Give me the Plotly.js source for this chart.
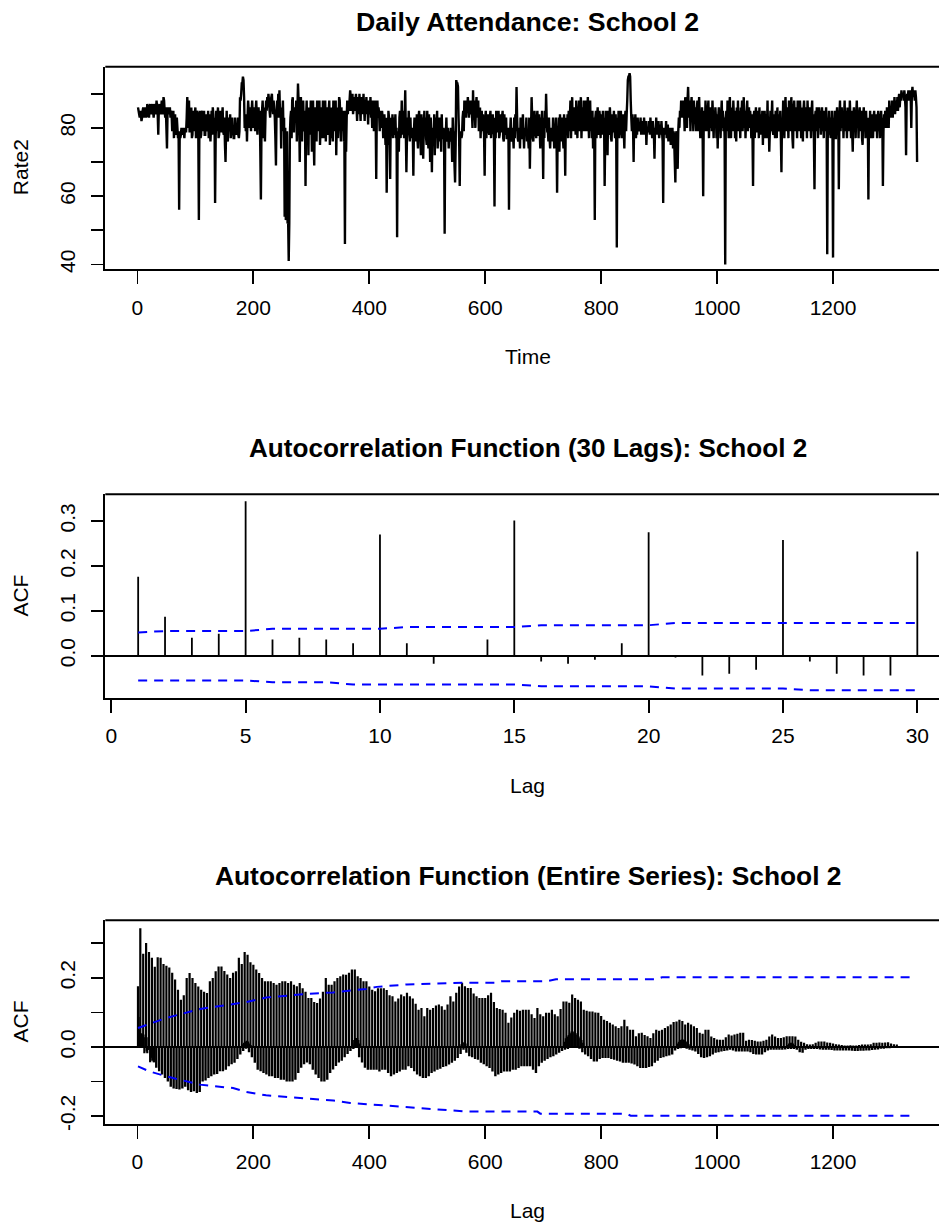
<!DOCTYPE html>
<html><head><meta charset="utf-8">
<script src="https://cdn.plot.ly/plotly-3.0.1.min.js"></script>
<style>html,body{margin:0;padding:0;background:#fff}</style>
</head><body><div id="chart" style="width:939px;height:1224px"></div>
<script>
// ---------- Daily attendance rate, School 2 (day 1..1345) ----------
const rate2 = [
86,85,84,83,85,84,82,83,85,86,84,83,86,85,83,84,87,86,84,83,
86,87,85,84,86,87,85,83,86,87,84,85,88,86,84,78,86,87,85,84,
86,88,85,84,89,88,85,83,86,80,74,85,86,84,85,86,83,85,84,79,
83,85,77,80,84,79,78,83,80,77,79,56,79,77,78,80,79,78,80,79,
77,80,79,79,83,89,85,80,88,79,79,84,86,77,78,85,83,79,84,86,
77,78,85,84,79,53,83,85,77,78,84,85,79,83,85,78,78,84,83,79,
80,85,77,84,79,76,80,85,78,86,84,79,83,58,77,85,79,83,86,77,
78,84,85,79,79,83,86,79,78,83,75,70,79,85,77,76,83,79,80,84,
77,79,83,78,80,77,77,83,79,78,80,79,83,78,77,79,89,88,90,93,
93,95,94,89,80,83,79,84,76,83,88,85,80,86,83,79,85,88,83,80,
86,84,79,85,88,83,78,84,86,80,85,73,59,79,85,88,83,77,86,76,
84,88,85,89,86,90,88,85,83,88,89,90,86,84,88,85,83,77,69,85,
88,85,90,83,91,84,86,74,85,83,88,79,83,54,80,53,55,79,52,53,
41,52,78,83,85,77,88,89,79,79,86,84,83,88,76,85,93,88,83,70,
85,89,83,76,86,88,80,79,85,63,83,88,77,85,72,86,83,78,88,84,
73,85,88,77,69,84,86,79,76,88,83,79,85,88,75,80,86,84,77,88,
83,77,85,88,76,84,86,79,78,85,88,75,83,86,77,85,76,88,83,79,
85,88,72,84,86,77,83,89,88,83,76,86,79,84,85,76,77,46,85,73,
83,88,84,87,85,88,91,89,85,88,90,84,86,89,85,88,90,86,82,89,
88,84,90,86,82,89,85,88,84,90,86,82,88,85,89,84,86,81,88,85,
84,89,83,86,80,88,83,79,85,88,83,65,85,88,83,86,84,79,85,83,
80,85,83,77,79,84,80,75,83,61,79,75,85,83,77,65,83,79,79,84,
77,83,79,78,84,77,80,48,79,78,73,83,85,77,80,88,78,83,85,77,
83,91,79,67,77,83,78,85,79,76,83,77,78,80,79,66,79,83,77,80,
76,84,77,74,83,85,78,79,72,84,77,83,71,80,85,78,83,77,75,85,
77,74,84,79,70,83,78,67,80,77,76,84,72,83,77,78,85,74,79,77,
83,76,79,73,84,77,77,80,77,49,79,78,83,76,77,80,74,79,77,76,
80,77,70,83,78,79,69,64,75,94,93,93,92,83,77,63,79,78,77,78,
83,85,79,88,85,86,83,88,85,89,86,83,88,85,84,88,85,80,91,83,
88,84,80,86,89,83,85,88,79,84,86,77,83,85,79,84,80,78,66,83,
85,77,83,79,84,79,78,83,85,77,80,79,84,79,78,57,83,77,85,79,
79,83,85,77,78,84,79,79,83,85,77,76,84,79,78,83,77,77,80,79,
56,79,79,83,77,76,80,78,74,83,77,84,79,92,83,77,76,80,79,74,
83,77,77,79,84,79,74,80,78,78,83,76,79,77,74,83,68,79,79,89,
83,77,76,80,85,79,79,77,83,85,78,78,84,79,74,83,77,85,78,65,
83,77,85,80,90,83,79,79,76,83,77,74,80,78,79,76,83,79,74,80,
78,83,77,61,79,76,83,73,84,79,79,76,83,77,74,84,79,66,83,79,
78,84,77,85,79,83,88,77,84,89,79,85,79,86,83,78,88,84,77,85,
83,88,79,85,89,77,84,86,79,88,83,79,85,88,79,84,89,83,77,85,
88,79,84,77,85,74,83,79,53,83,85,77,83,86,79,78,85,83,77,84,
80,78,85,79,83,63,77,85,79,83,72,85,79,78,86,83,77,76,84,79,
79,85,80,77,84,77,45,83,79,85,77,83,78,85,79,77,83,84,79,74,
83,85,79,84,88,94,95,95,96,95,88,83,79,84,80,70,83,79,84,77,
80,78,83,79,81,79,80,83,78,82,79,80,78,83,80,78,82,75,80,79,
79,82,80,78,83,79,80,77,82,79,78,71,80,79,83,78,80,79,82,77,
79,81,78,82,79,76,58,80,79,80,78,82,77,79,81,76,79,78,80,75,
79,77,80,74,79,76,70,64,78,79,75,68,79,83,80,85,83,88,84,86,
83,88,85,79,89,84,86,80,88,92,85,83,88,79,86,89,83,85,79,88,
84,86,83,79,85,88,79,84,89,83,77,85,80,86,79,60,83,85,79,88,
83,86,79,85,88,77,84,86,80,85,79,88,83,77,85,80,86,83,77,84,
74,83,86,79,85,77,84,88,80,85,79,83,77,40,83,85,79,88,84,77,
85,89,83,77,86,84,79,88,83,85,77,84,76,86,80,88,79,85,83,77,
86,83,88,79,84,89,80,85,77,83,85,88,79,84,86,80,85,83,77,84,
79,63,83,85,77,83,86,79,79,85,83,77,86,80,78,84,79,85,75,83,
77,85,80,77,84,79,88,77,83,73,79,85,79,83,88,79,78,84,80,77,
85,83,77,86,80,79,84,79,85,77,67,83,79,88,84,77,85,89,83,79,
86,84,77,88,83,85,79,89,84,77,74,85,88,83,79,86,84,77,88,83,
85,79,88,84,77,86,80,76,85,88,83,79,86,84,77,88,83,85,79,86,
83,77,85,88,79,84,77,62,83,85,79,86,83,77,84,86,80,85,78,83,
86,79,84,77,85,83,79,86,80,43,83,77,85,78,83,79,77,85,79,42,
83,79,85,77,77,83,86,79,85,62,83,88,79,84,86,80,85,77,83,88,
79,85,83,77,86,80,85,79,88,83,77,85,79,73,83,86,80,85,77,84,
88,80,85,77,84,86,79,83,85,77,75,83,86,79,84,77,85,80,78,83,
59,83,79,85,77,83,79,84,77,83,85,79,80,79,84,77,83,85,79,84,
77,83,85,79,83,63,79,84,80,85,83,80,86,83,85,80,88,84,83,86,
84,88,83,87,85,89,84,87,88,85,89,85,88,90,86,89,88,91,89,90,
90,88,91,89,86,72,88,90,89,91,88,90,91,89,80,90,92,89,91,90,
88,91,89,86,70
];

// ---------- ACF, first 30 lags ----------
const acf30Lags = [1,2,3,4,5,6,7,8,9,10,11,12,13,14,15,16,17,18,19,20,21,22,23,24,25,26,27,28,29,30];
const acf30 = [0.176,0.087,0.040,0.049,0.344,0.036,0.040,0.036,0.028,0.270,
               0.028,-0.018,-0.002,0.036,0.301,-0.013,-0.018,-0.009,0.028,0.275,
               -0.004,-0.044,-0.040,-0.031,0.258,-0.013,-0.040,-0.044,-0.044,0.232];
const ci30Upper = [0.052,0.055,0.055,0.055,0.055,0.060,0.060,0.060,0.060,0.060,
                   0.064,0.064,0.064,0.064,0.064,0.068,0.068,0.068,0.068,0.068,
                   0.073,0.073,0.073,0.073,0.073,0.073,0.073,0.073,0.073,0.073];
const ci30Lower = [-0.055,-0.055,-0.055,-0.055,-0.055,-0.059,-0.059,-0.059,-0.064,-0.064,
                   -0.064,-0.064,-0.064,-0.064,-0.064,-0.068,-0.068,-0.068,-0.068,-0.068,
                   -0.073,-0.073,-0.073,-0.073,-0.073,-0.077,-0.077,-0.077,-0.077,-0.077];

// ---------- ACF, entire series (lags 31..1340, per 5-lag week block) ----------
// peak = ACF at lag 35,40,...,1340 ; trough = lowest ACF among the other 4 lags of that block
const acfAllPeak = [
.26,.258,.24,.235,.23,.215,.195,.166,.137,.15,
.2,.214,.2,.185,.175,.166,.16,.156,.19,.2,
.219,.233,.233,.22,.21,.2,.215,.219,.258,.24,
.275,.267,.245,.238,.224,.214,.2,.19,.19,.19,
.185,.18,.185,.19,.19,.185,.19,.18,.176,.185,
.17,.16,.142,.142,.13,.127,.14,.16,.2,.18,
.18,.19,.2,.205,.21,.209,.215,.224,.224,.205,
.2,.19,.19,.175,.166,.161,.17,.17,.17,.165,
.15,.147,.132,.14,.152,.147,.157,.147,.14,.125,
.108,.113,.089,.113,.108,.113,.12,.123,.118,.108,
.123,.147,.132,.157,.175,.186,.176,.171,.171,.155,
.147,.142,.142,.142,.15,.157,.13,.113,.11,.108,
.099,.07,.085,.099,.108,.105,.108,.108,.108,.095,
.084,.113,.095,.089,.099,.099,.108,.095,.089,.11,
.132,.132,.128,.152,.142,.137,.132,.108,.105,.103,
.103,.1,.099,.09,.079,.075,.07,.065,.06,.055,
.06,.079,.06,.05,.05,.031,.04,.041,.035,.031,
.026,.04,.05,.047,.05,.055,.06,.065,.072,.074,
.079,.075,.065,.07,.065,.06,.055,.041,.038,.05,
.05,.03,.026,.022,.021,.021,.028,.036,.033,.036,
.038,.041,.041,.018,.021,.02,.018,.016,.016,.018,
.021,.03,.036,.03,.026,.026,.028,.031,.031,.031,
.03,.021,.015,.012,.008,.007,.008,.012,.016,.016,
.016,.013,.012,.01,.008,.007,.006,.004,.004,.005,
.004,.004,.006,.007,.007,.007,.008,.012,.012,.013,
.012,.013,.014,.01,.008,.007,.003,.002,.002,.001,
.001,.001
];
const acfAllTrough = [
-.06,-.07,-.08,-.09,-.1,-.115,-.12,-.122,-.123,-.12,
-.115,-.125,-.13,-.128,-.133,-.13,-.1,-.097,-.09,-.085,
-.08,-.078,-.07,-.07,-.066,-.056,-.05,-.046,-.035,-.022,
-.012,-.005,-.015,-.03,-.046,-.066,-.07,-.075,-.08,-.085,
-.085,-.09,-.09,-.095,-.095,-.1,-.1,-.1,-.095,-.075,
-.06,-.05,-.045,-.05,-.066,-.08,-.09,-.1,-.1,-.095,
-.075,-.065,-.055,-.045,-.04,-.03,-.02,-.012,-.006,-.003,
-.03,-.045,-.06,-.066,-.066,-.066,-.066,-.071,-.066,-.066,
-.075,-.085,-.08,-.075,-.071,-.066,-.066,-.056,-.061,-.07,
-.08,-.085,-.09,-.09,-.085,-.075,-.071,-.066,-.063,-.058,
-.056,-.051,-.046,-.04,-.032,-.02,-.008,-.017,-.027,-.03,
-.035,-.037,-.046,-.05,-.056,-.061,-.071,-.085,-.08,-.075,
-.071,-.071,-.071,-.066,-.066,-.061,-.056,-.056,-.056,-.056,
-.066,-.075,-.056,-.046,-.04,-.035,-.03,-.027,-.022,-.017,
-.012,-.008,-.006,-.003,-.003,-.003,-.005,-.015,-.022,-.027,
-.035,-.042,-.042,-.035,-.032,-.032,-.032,-.035,-.037,-.04,
-.042,-.046,-.046,-.046,-.048,-.051,-.056,-.061,-.061,-.061,
-.058,-.056,-.046,-.04,-.032,-.03,-.027,-.025,-.022,-.01,
-.006,-.004,-.003,-.005,-.008,-.01,-.013,-.02,-.03,-.032,
-.03,-.027,-.022,-.017,-.015,-.013,-.012,-.01,-.008,-.01,
-.013,-.013,-.013,-.013,-.013,-.015,-.02,-.022,-.022,-.022,
-.015,-.01,-.008,-.008,-.008,-.008,-.008,-.007,-.006,-.006,
-.006,-.008,-.015,-.017,-.008,-.006,-.006,-.006,-.006,-.007,
-.008,-.008,-.008,-.009,-.01,-.01,-.01,-.01,-.01,-.01,
-.011,-.012,-.012,-.011,-.011,-.01,-.01,-.009,-.008,-.007,
-.005,-.005,-.004,-.004,-.003,-.003,-.002,-.001,-.001,-.001,
-.001,-.001
];
// positive off-peak lags
const acfAllBumpLags = [181,184,186,189,191,194,196, 371,374,376,379,381,384, 559,561,564,566,
  736,739,741,744,746,749,751,754,756,759,761,764,766,769, 931,934,936,939,941,944,946,949,951,
  1121,1124,1126,1129,1131,1134];
const acfAllBumpVals = [.008,.012,.016,.018,.016,.01,.005, .01,.02,.026,.026,.02,.01, .008,.012,.014,.01,
  .015,.025,.03,.035,.04,.045,.045,.04,.04,.035,.03,.025,.02,.012, .01,.015,.02,.022,.022,.02,.016,.012,.008,
  .006,.01,.012,.012,.01,.006];
const ciAllUpperLags = [1,50,108,165,188,222,280,338,395,413,465,568,620,628,705,722,895,905,1343];
const ciAllUpper     = [.055,.084,.110,.123,.130,.143,.152,.158,.168,.174,.181,.186,.186,.190,.190,.196,.196,.202,.202];
const ciAllLowerLags = [1,21,50,73,108,165,188,222,280,338,367,453,516,568,690,695,843,851,1343];
const ciAllLower     = [-.056,-.071,-.085,-.095,-.109,-.119,-.130,-.140,-.148,-.155,-.162,-.172,-.181,-.187,-.187,-.193,-.193,-.199,-.199];

// ---------- tick labels ----------
const timeTicks = [0,200,400,600,800,1000,1200];
const lag30Ticks = [0,5,10,15,20,25,30];
const rateTicks = [40,50,60,70,80,90];
const rateTickText = ['40','','60','','80',''];
const acf30Ticks = [0,0.1,0.2,0.3];
const acf30TickText = ['0.0','0.1','0.2','0.3'];
const acfAllTicks = [-0.2,-0.1,0,0.1,0.2,0.3];
const acfAllTickText = ['-0.2','','0.0','','0.2',''];

// ---------- build ----------
const time = rate2.map((_, i) => i + 1);
const peakLags = acfAllPeak.map((_, i) => 35 + 5 * i);
const troughLags = peakLags.map(l => l - 2.5);

function spikes(lags, vals) {
  const x = [], y = [];
  lags.forEach((l, i) => { x.push(l, l, null); y.push(0, vals[i], null); });
  return {x, y};
}
const BLUE = '#0000FF';
const dash = '9px,7px';
const traces = [];
traces.push({x: time, y: rate2, xaxis: 'x', yaxis: 'y', mode: 'lines',
  line: {color: 'black', width: 2.4, simplify: false}, hoverinfo: 'skip'});

const s30 = spikes(acf30Lags, acf30);
traces.push({x: s30.x, y: s30.y, xaxis: 'x2', yaxis: 'y2', mode: 'lines', line: {color: 'black', width: 1.8}});
traces.push({x: acf30Lags, y: ci30Upper, xaxis: 'x2', yaxis: 'y2', mode: 'lines', line: {color: BLUE, width: 2, dash: dash}});
traces.push({x: acf30Lags, y: ci30Lower, xaxis: 'x2', yaxis: 'y2', mode: 'lines', line: {color: BLUE, width: 2, dash: dash}});

const sT = spikes(troughLags, acfAllTrough);
traces.push({x: sT.x, y: sT.y, xaxis: 'x3', yaxis: 'y3', mode: 'lines', line: {color: 'black', width: 2.4}});
const sB = spikes(acfAllBumpLags, acfAllBumpVals);
traces.push({x: sB.x, y: sB.y, xaxis: 'x3', yaxis: 'y3', mode: 'lines', line: {color: 'black', width: 2.2}});
const s30b = spikes(acf30Lags, acf30);
traces.push({x: s30b.x, y: s30b.y, xaxis: 'x3', yaxis: 'y3', mode: 'lines', line: {color: 'black', width: 2.2}});
const sP = spikes(peakLags, acfAllPeak);
traces.push({x: sP.x, y: sP.y, xaxis: 'x3', yaxis: 'y3', mode: 'lines', line: {color: 'black', width: 2.2}});
traces.push({x: ciAllUpperLags, y: ciAllUpper, xaxis: 'x3', yaxis: 'y3', mode: 'lines', line: {color: BLUE, width: 2, dash: dash}});
traces.push({x: ciAllLowerLags, y: ciAllLower, xaxis: 'x3', yaxis: 'y3', mode: 'lines', line: {color: BLUE, width: 2, dash: dash}});

const W = 939, H = 1224;
const xl = 105.3 / W;
const dom = (top, bot) => [1 - bot / H, 1 - top / H];
const P1 = [66.7, 269.3], P2 = [494.3, 697.7], P3 = [920.3, 1123.7];
const FONT = 'Liberation Sans, Arial, Helvetica, sans-serif';

function xax(range, ticks, anchor) {
  return {domain: [xl, 1], range: range, anchor: anchor, tickmode: 'array', tickvals: ticks,
    ticktext: ticks.map(String), ticks: 'outside', ticklen: 13, tickwidth: 1.8, tickcolor: 'black',
    showline: true, linewidth: 2, linecolor: 'black', showgrid: false, zeroline: false,
    tickfont: {size: 21, family: FONT, color: 'black'}, ticklabelstandoff: 5};
}
function yax(range, ticks, text, d, anchor, zl) {
  return {domain: d, range: range, anchor: anchor, tickmode: 'array', tickvals: ticks, ticktext: text,
    ticks: 'outside', ticklen: 12, tickwidth: 1.8, tickcolor: 'black', tickangle: -90,
    showline: true, linewidth: 2, linecolor: 'black', showgrid: false,
    zeroline: zl, zerolinecolor: 'black', zerolinewidth: 1.5,
    tickfont: {size: 21, family: FONT, color: 'black'}, ticklabelstandoff: 8};
}
const topLine = (top) => ({type: 'line', xref: 'paper', yref: 'paper', x0: xl, x1: 1,
  y0: 1 - top / H, y1: 1 - top / H, line: {color: 'black', width: 2}});

function ann(text, px, py, size, angle) {
  return {text: text, xref: 'paper', yref: 'paper', x: px / W, y: 1 - py / H,
    xanchor: 'center', yanchor: 'middle', showarrow: false, textangle: angle || 0,
    font: {size: size, family: FONT, color: 'black'}};
}

const layout = {
  width: W, height: H, margin: {l: 0, r: 0, t: 0, b: 0},
  paper_bgcolor: 'white', plot_bgcolor: 'white', showlegend: false,
  font: {family: FONT, size: 21, color: 'black'},
  xaxis: xax([-55.4, 1382.8], timeTicks, 'y'),
  yaxis: yax([38.58, 97.92], rateTicks, rateTickText, dom(P1[0], P1[1]), 'x', false),
  xaxis2: xax([-0.223, 30.807], lag30Ticks, 'y2'),
  yaxis2: yax([-0.0934, 0.3596], acf30Ticks, acf30TickText, dom(P2[0], P2[1]), 'x2', true),
  xaxis3: xax([-55.4, 1382.8], timeTicks, 'y3'),
  yaxis3: yax([-0.2221, 0.3667], acfAllTicks, acfAllTickText, dom(P3[0], P3[1]), 'x3', true),
  shapes: [topLine(P1[0]), topLine(P2[0]), topLine(P3[0])],
  annotations: [
    ann('<b>Daily Attendance: School 2</b>', 527.5, 21.7, 26.7),
    ann('<b>Autocorrelation Function (30 Lags): School 2</b>', 527.5, 447.5, 26.1),
    ann('<b>Autocorrelation Function (Entire Series): School 2</b>', 528, 875.5, 26.35),
    ann('Time', 528.3, 356.7, 21),
    ann('Lag', 527.5, 785, 21),
    ann('Lag', 527.3, 1210.8, 21),
    ann('Rate2', 20.7, 167.5, 21, -90),
    ann('ACF', 20.8, 595.8, 21, -90),
    ann('ACF', 20.8, 1021.7, 21, -90)
  ]
};
Plotly.newPlot('chart', traces, layout, {staticPlot: true, displayModeBar: false});
</script>
</body></html>
